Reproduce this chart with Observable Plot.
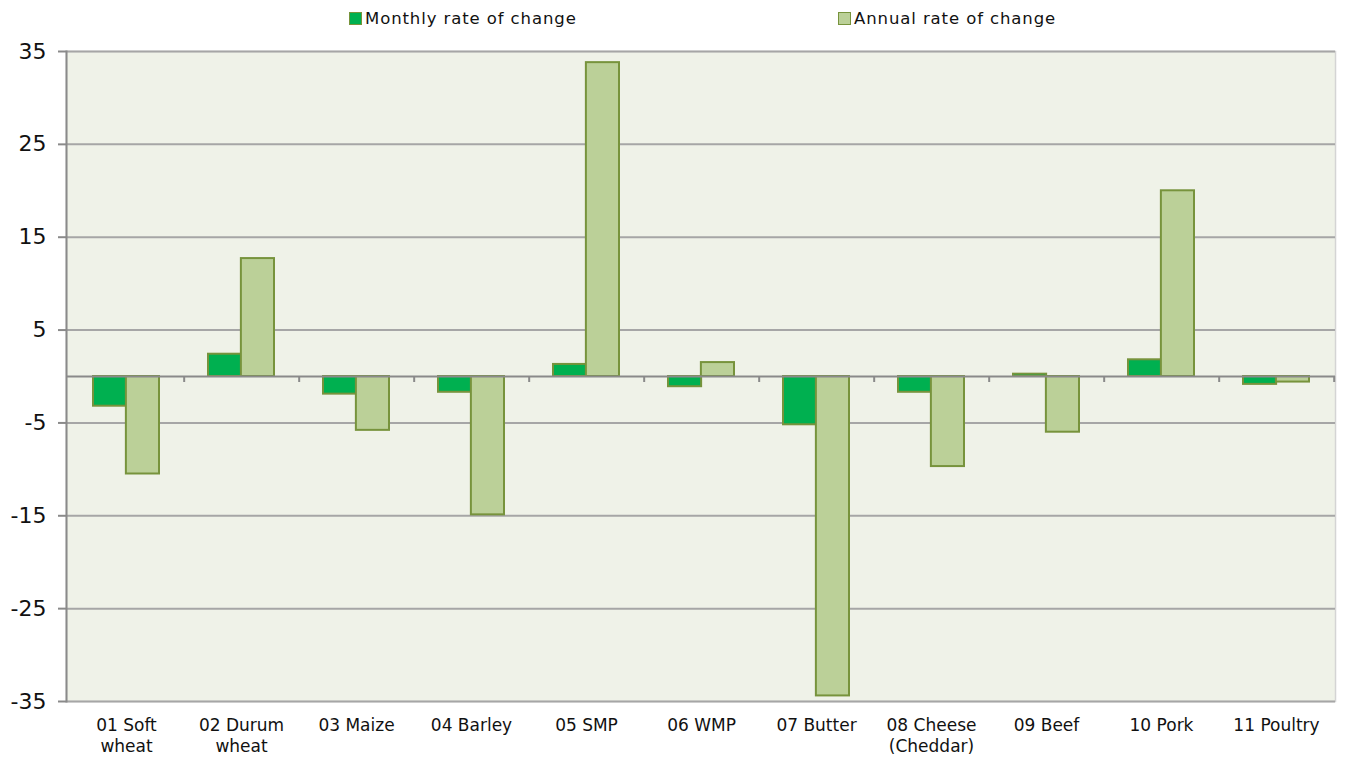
<!DOCTYPE html>
<html>
<head>
<meta charset="utf-8">
<script src="https://cdn.jsdelivr.net/npm/d3@7"></script>
<script src="https://cdn.jsdelivr.net/npm/@observablehq/plot@0.6"></script>
<style>
  body { margin: 0; background: #fff; font-family: "DejaVu Sans", Verdana, sans-serif; }
  #legend { position: relative; height: 36px; width: 1347px; }
  .item { position: absolute; top: 9px; font-size: 16.5px; letter-spacing: 0.9px; color: #111; white-space: nowrap; line-height: 20px; }
  .sw { display: inline-block; width: 11px; height: 11px; border: 1.5px solid #77933C; vertical-align: -1px; margin-right: 3px; }
</style>
</head>
<body>
<div id="legend"></div>
<div id="chart"></div>
<script>
const categories = ["01 Soft\nwheat", "02 Durum\nwheat", "03 Maize", "04 Barley", "05 SMP", "06 WMP", "07 Butter", "08 Cheese\n(Cheddar)", "09 Beef", "10 Pork", "11 Poultry"];
const seriesNames = ["Monthly rate of change", "Annual rate of change"];
const monthly = [-3.2, 2.4, -1.9, -1.7, 1.3, -1.1, -5.2, -1.7, 0.25, 1.8, -0.85];
const annual = [-10.5, 12.7, -5.8, -14.9, 33.8, 1.5, -34.4, -9.7, -6.0, 20.0, -0.6];
const yTicks = [-35, -25, -15, -5, 5, 15, 25, 35];
const colors = ["#00B050", "#BBD098"];
const legendX = [349, 838];

// legend
const legend = document.getElementById("legend");
seriesNames.forEach((name, i) => {
  const el = document.createElement("div");
  el.className = "item";
  el.style.left = legendX[i] + "px";
  const sw = document.createElement("span");
  sw.className = "sw";
  sw.style.background = colors[i];
  el.appendChild(sw);
  el.appendChild(document.createTextNode(name));
  legend.appendChild(el);
});

const data = categories.map((c, i) => ({cat: c, monthly: monthly[i], annual: annual[i]}));

const W = 1347, H = 724, mL = 66, mR = 12, mT = 15, mB = 59;
const padIn = 0.43;
const step = (W - mL - mR) / categories.length;
const bw = step * (1 - padIn);
const pxPerUnit = (H - mT - mB) / 70;

const chart = Plot.plot({
  width: W, height: H,
  marginLeft: mL, marginRight: mR, marginTop: mT, marginBottom: mB,
  style: {fontFamily: "'DejaVu Sans', Verdana, sans-serif", color: "#111", background: "#fff"},
  x: {domain: categories, paddingInner: padIn, paddingOuter: padIn / 2, label: null},
  y: {domain: [-35, 35], label: null},
  marks: [
    Plot.frame({fill: "#EFF2E8", stroke: "#D4D4D4", strokeWidth: 1.5}),
    Plot.ruleY(yTicks, {stroke: "#A6A6A6", strokeWidth: 2}),
    Plot.barY(data, {x: "cat", y: "monthly", fill: colors[0], stroke: "#77933C", strokeWidth: 2, insetRight: bw / 2}),
    Plot.barY(data, {x: "cat", y: "annual", fill: colors[1], stroke: "#77933C", strokeWidth: 2, insetLeft: bw / 2}),
    Plot.ruleY([0], {stroke: "#8A8A8A", strokeWidth: 2}),
    Plot.ruleX(categories, {x: d => d, y1: 0, y2: -6 / pxPerUnit, dx: step / 2, stroke: "#8A8A8A", strokeWidth: 2}),
    Plot.frame({anchor: "left", stroke: "#8A8A8A", strokeWidth: 2}),
    Plot.axisY({ticks: yTicks, tickSize: 8, tickPadding: 12, fontSize: 22, stroke: "#8A8A8A", strokeWidth: 2, tickFormat: d => String(d)}),
    Plot.axisX({tickSize: 0, tickPadding: 14, fontSize: 17, lineHeight: 1.25, style: {letterSpacing: "0.6px"}})
  ]
});
document.getElementById("chart").appendChild(chart);
</script>
</body>
</html>
